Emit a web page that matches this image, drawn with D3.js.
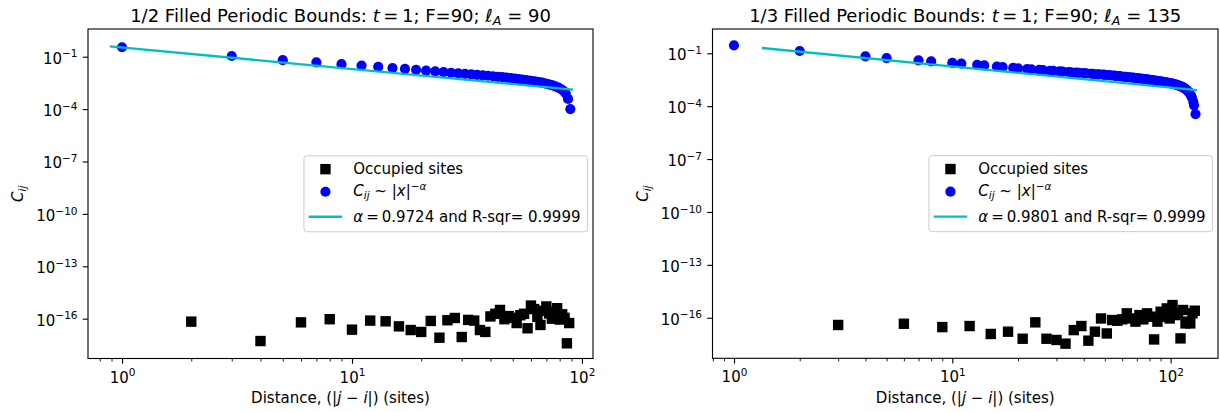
<!DOCTYPE html>
<html><head><meta charset="utf-8">
<script src="https://cdn.jsdelivr.net/npm/d3@7"></script>
<style>
body{margin:0;background:#fff}
svg{display:block}
text{font-family:"DejaVu Sans",sans-serif}
</style></head><body>
<svg id="c" width="1220" height="412"></svg>
<script>
// ---------------- data ----------------
const xTickExp = [0, 1, 2];
const yTickExp = [-1, -4, -7, -10, -13, -16];

// left panel: 1/2 filling
const leftTitle = "1/2";
const leftEll = "90";
const leftAlpha = "0.9724";
const leftBlueR = [1,3,5,7,9,11,13,15,17,19,21,23,25,27,29,31,33,35,37,39,41,43,45,47,49,51,53,55,57,59,61,63,65,67,69,71,73,75,77,79,81,83,85,87,89];
const leftBlueExp = [-0.46,-0.96,-1.20,-1.33,-1.43,-1.51,-1.58,-1.65,-1.70,-1.75,-1.80,-1.84,-1.88,-1.92,-1.95,-1.98,-2.01,-2.04,-2.07,-2.09,-2.12,-2.15,-2.17,-2.20,-2.22,-2.25,-2.28,-2.31,-2.34,-2.37,-2.40,-2.43,-2.46,-2.49,-2.53,-2.57,-2.61,-2.66,-2.71,-2.77,-2.85,-2.95,-3.10,-3.42,-4.00];
const leftOccR = [2,4,6,8,10,12,14,16,18,20,22,24,26,28,30,32,34,36,38,40,42,44,46,48,50,52,54,56,58,60,62,64,66,68,70,72,74,76,78,80,82,84,86,88];
const leftOccExp = [-16.17,-17.28,-16.21,-16.03,-16.63,-16.11,-16.15,-16.44,-16.65,-16.76,-16.13,-17.09,-16.09,-15.96,-17.05,-16.07,-16.11,-16.65,-16.76,-15.87,-15.72,-15.50,-16.03,-15.85,-15.95,-16.25,-15.80,-15.72,-16.55,-15.25,-15.45,-15.90,-16.36,-15.55,-15.30,-15.70,-16.00,-15.60,-15.40,-16.05,-15.75,-15.95,-17.41,-16.25];
const leftFitX = [0.885, 91.5];
const leftFitExp = [-0.405, -2.89];

// right panel: 1/3 filling
const rightTitle = "1/3";
const rightEll = "135";
const rightAlpha = "0.9801";
const rightBlueR = [1,2,4,5,7,8,10,11,13,14,16,17,19,20,22,23,25,26,28,29,31,32,34,35,37,38,40,41,43,44,46,47,49,50,52,53,55,56,58,59,61,62,64,65,67,68,70,71,73,74,76,77,79,80,82,83,85,86,88,89,91,92,94,95,97,98,100,101,103,104,106,107,109,110,112,113,115,116,118,119,121,122,124,125,127,128,130];
const rightBlueExp = [-0.55,-0.87,-1.17,-1.27,-1.40,-1.46,-1.54,-1.59,-1.66,-1.69,-1.75,-1.78,-1.83,-1.85,-1.89,-1.91,-1.94,-1.96,-1.99,-2.00,-2.03,-2.04,-2.06,-2.08,-2.10,-2.11,-2.13,-2.14,-2.16,-2.17,-2.19,-2.20,-2.21,-2.22,-2.24,-2.25,-2.27,-2.28,-2.30,-2.31,-2.33,-2.34,-2.36,-2.37,-2.38,-2.39,-2.41,-2.42,-2.44,-2.45,-2.46,-2.47,-2.49,-2.50,-2.52,-2.53,-2.55,-2.56,-2.58,-2.59,-2.61,-2.62,-2.64,-2.65,-2.67,-2.68,-2.70,-2.71,-2.74,-2.75,-2.78,-2.80,-2.83,-2.85,-2.89,-2.91,-2.96,-2.99,-3.06,-3.10,-3.19,-3.25,-3.40,-3.49,-3.75,-3.95,-4.45];
const rightOccR = [3,6,9,12,15,18,21,24,27,30,33,36,39,42,45,48,51,54,57,60,63,66,69,72,75,78,81,84,87,90,93,96,99,102,105,108,111,114,117,120,123,126,129];
const rightOccExp = [-16.41,-16.34,-16.53,-16.47,-16.92,-16.79,-17.19,-16.26,-17.19,-17.26,-17.47,-16.70,-16.47,-17.30,-16.79,-16.04,-16.89,-16.13,-16.17,-16.09,-15.75,-16.04,-16.22,-15.85,-16.09,-15.75,-15.94,-17.23,-16.22,-15.66,-15.94,-15.47,-16.04,-15.28,-15.85,-15.75,-17.17,-15.56,-16.32,-16.22,-16.32,-15.75,-15.60];
const rightFitX = [1.34, 132];
const rightFitExp = [-0.70, -3.09];

const legendLabels = ["Occupied sites", "Cij", "alpha"];

// ---------------- drawing ----------------
const svg = d3.select("#c");
svg.append("rect").attr("width",1220).attr("height",412).attr("fill","#fff");
const FS = 15;

function pow10(a){ return a.map(e => Math.pow(10, e)); }

const panels = [
  {left:88, right:593, top:29, bottom:358.5, xDom:[Math.pow(10,-0.148), Math.pow(10,2.048)], yDom:[Math.pow(10,-18.28), Math.pow(10,0.586)],
   title:leftTitle, ell:leftEll, alpha:leftAlpha, blueR:leftBlueR, blueV:pow10(leftBlueExp), occR:leftOccR, occV:pow10(leftOccExp),
   fitX:leftFitX, fitV:pow10(leftFitExp), ylabX:23},
  {left:712.5, right:1218, top:29, bottom:358.3, xDom:[Math.pow(10,-0.0985), Math.pow(10,2.217)], yDom:[Math.pow(10,-18.30), Math.pow(10,0.378)],
   title:rightTitle, ell:rightEll, alpha:rightAlpha, blueR:rightBlueR, blueV:pow10(rightBlueExp), occR:rightOccR, occV:pow10(rightOccExp),
   fitX:rightFitX, fitV:pow10(rightFitExp), ylabX:648}
];

function supLabel(sel, base, exp){
  sel.text(null);
  sel.append("tspan").text(base);
  sel.append("tspan").attr("font-size", FS*0.7).attr("dy", -6.3).text(exp);
}

panels.forEach(p => {
  const g = svg.append("g");
  const x = d3.scaleLog().domain(p.xDom).range([p.left, p.right]);
  const y = d3.scaleLog().domain(p.yDom).range([p.bottom, p.top]);

  // occupied sites squares
  const S = 10.4;
  g.selectAll("rect.sq").data(p.occR.map((r,i)=>[r,p.occV[i]])).join("rect").attr("class","sq")
    .attr("x", d => x(d[0]) - S/2).attr("y", d => y(d[1]) - S/2)
    .attr("width", S).attr("height", S).attr("fill", "#000");
  // correlation points
  g.selectAll("circle.pt").data(p.blueR.map((r,i)=>[r,p.blueV[i]])).join("circle").attr("class","pt")
    .attr("cx", d => x(d[0])).attr("cy", d => y(d[1])).attr("r", 5.1).attr("fill", "#0000ff");
  // fit line
  g.append("path").attr("d", d3.line().x(d=>x(d[0])).y(d=>y(d[1]))(p.fitX.map((v,i)=>[v,p.fitV[i]])))
    .attr("fill","none").attr("stroke","#00bfbf").attr("stroke-width",2.3);

  // spines
  g.append("rect").attr("x",p.left).attr("y",p.top).attr("width",p.right-p.left).attr("height",p.bottom-p.top)
    .attr("fill","none").attr("stroke","#000").attr("stroke-width",1.1);

  // x axis major
  const gx = g.append("g").attr("transform",`translate(0,${p.bottom})`)
    .call(d3.axisBottom(x).tickValues(xTickExp.map(e=>Math.pow(10,e))).tickSize(5.25).tickFormat(()=>""));
  gx.attr("font-family",null).attr("font-size",null);
  gx.select(".domain").remove();
  gx.selectAll(".tick line").attr("stroke","#000").attr("stroke-width",1.1);
  gx.selectAll(".tick text").each(function(d,i){
    const t = d3.select(this).attr("y",24).attr("dy",null).attr("fill","#000").attr("font-size",FS).attr("text-anchor","middle");
    supLabel(t, "10", String(xTickExp[i]).replace("-","\u2212"));
  });
  // x axis minor
  const minors = [];
  for (let dec=-1; dec<=2; dec++) for (let k=2;k<=9;k++){ const v=k*Math.pow(10,dec); if (v>=p.xDom[0] && v<=p.xDom[1]) minors.push(v); }
  const gm = g.append("g").attr("transform",`translate(0,${p.bottom})`)
    .call(d3.axisBottom(x).tickValues(minors).tickSize(3).tickFormat(()=>""));
  gm.select(".domain").remove();
  gm.selectAll(".tick text").remove();
  gm.selectAll(".tick line").attr("stroke","#000").attr("stroke-width",0.9);

  // y axis
  const gy = g.append("g").attr("transform",`translate(${p.left},0)`)
    .call(d3.axisLeft(y).tickValues(yTickExp.map(e=>Math.pow(10,e))).tickSize(5.25).tickFormat(()=>""));
  gy.attr("font-family",null).attr("font-size",null);
  gy.select(".domain").remove();
  gy.selectAll(".tick line").attr("stroke","#000").attr("stroke-width",1.1);
  gy.selectAll(".tick text").each(function(d,i){
    const t = d3.select(this).attr("x",-10.5).attr("dy",null).attr("y",6.5).attr("fill","#000").attr("font-size",FS).attr("text-anchor","end");
    supLabel(t, "10", String(yTickExp[i]).replace("-","\u2212"));
  });

  // title
  const cx = (p.left+p.right)/2;
  const tt = g.append("text").attr("x",cx).attr("y",21.5).attr("text-anchor","middle").attr("font-size",18).attr("fill","#000");
  tt.append("tspan").text(p.title + " Filled Periodic Bounds: ");
  tt.append("tspan").attr("font-style","italic").text("t");
  tt.append("tspan").text("\u2009=\u20091; F=90; ");
  tt.append("tspan").attr("font-style","italic").text("\u2113");
  tt.append("tspan").attr("font-style","italic").attr("font-size",12.6).attr("dy",3.5).text("A");
  tt.append("tspan").attr("dy",-3.5).text(" = " + p.ell);

  // x label
  const xl = g.append("text").attr("x",cx).attr("y",403).attr("text-anchor","middle").attr("font-size",FS).attr("fill","#000");
  xl.append("tspan").text("Distance, (|");
  xl.append("tspan").attr("font-style","italic").text("j");
  xl.append("tspan").text(" \u2212 ");
  xl.append("tspan").attr("font-style","italic").text("i");
  xl.append("tspan").text("|) (sites)");

  // y label
  const cy = (p.top+p.bottom)/2;
  const yl = g.append("text").attr("transform",`translate(${p.ylabX},${cy}) rotate(-90)`).attr("text-anchor","middle")
    .attr("font-size",FS).attr("fill","#000");
  yl.append("tspan").attr("font-style","italic").text("C");
  yl.append("tspan").attr("font-style","italic").attr("font-size",10.5).attr("dy",3).text("ij");

  // legend
  const lg = g.append("g");
  const box = lg.append("rect").attr("fill","#fff").attr("fill-opacity",0.8).attr("stroke","#cccccc").attr("stroke-width",1).attr("rx",3);
  const t1 = lg.append("text").attr("font-size",FS).attr("fill","#000").text(legendLabels[0]);
  const t2 = lg.append("text").attr("font-size",FS).attr("fill","#000");
  t2.append("tspan").attr("font-style","italic").text("C");
  t2.append("tspan").attr("font-style","italic").attr("font-size",10.5).attr("dy",3).text("ij");
  t2.append("tspan").attr("dy",-3).text(" ~ |");
  t2.append("tspan").attr("font-style","italic").text("x");
  t2.append("tspan").text("|");
  t2.append("tspan").attr("font-size",10.5).attr("dy",-6.3).text("\u2212");
  t2.append("tspan").attr("font-size",10.5).attr("font-style","italic").text("\u03b1");
  const t3 = lg.append("text").attr("font-size",FS).attr("fill","#000");
  t3.append("tspan").attr("font-style","italic").text("\u03b1");
  t3.append("tspan").text("\u2009=\u2009" + p.alpha + " and R-sqr= 0.9999");
  const maxW = Math.max(t1.node().getComputedTextLength(), t2.node().getComputedTextLength(), t3.node().getComputedTextLength());
  const bw = 49.3 + maxW + 7, bh = 76;
  const bx = p.right - 5.5 - bw, by = cy - bh/2;
  box.attr("x",bx).attr("y",by).attr("width",bw).attr("height",bh);
  t1.attr("x",bx+49.3).attr("y",by+18.5);
  t2.attr("x",bx+49.3).attr("y",by+40.5);
  t3.attr("x",bx+49.3).attr("y",by+66.5);
  const hx = bx + 21.5;
  lg.append("rect").attr("x",hx-S/2).attr("y",by+13.4-S/2).attr("width",S).attr("height",S).attr("fill","#000");
  lg.append("circle").attr("cx",hx).attr("cy",by+36).attr("r",5.1).attr("fill","#0000ff");
  lg.append("line").attr("x1",bx+4.7).attr("x2",bx+38.2).attr("y1",by+61).attr("y2",by+61).attr("stroke","#00bfbf").attr("stroke-width",2.3);
});
</script>
</body></html>
